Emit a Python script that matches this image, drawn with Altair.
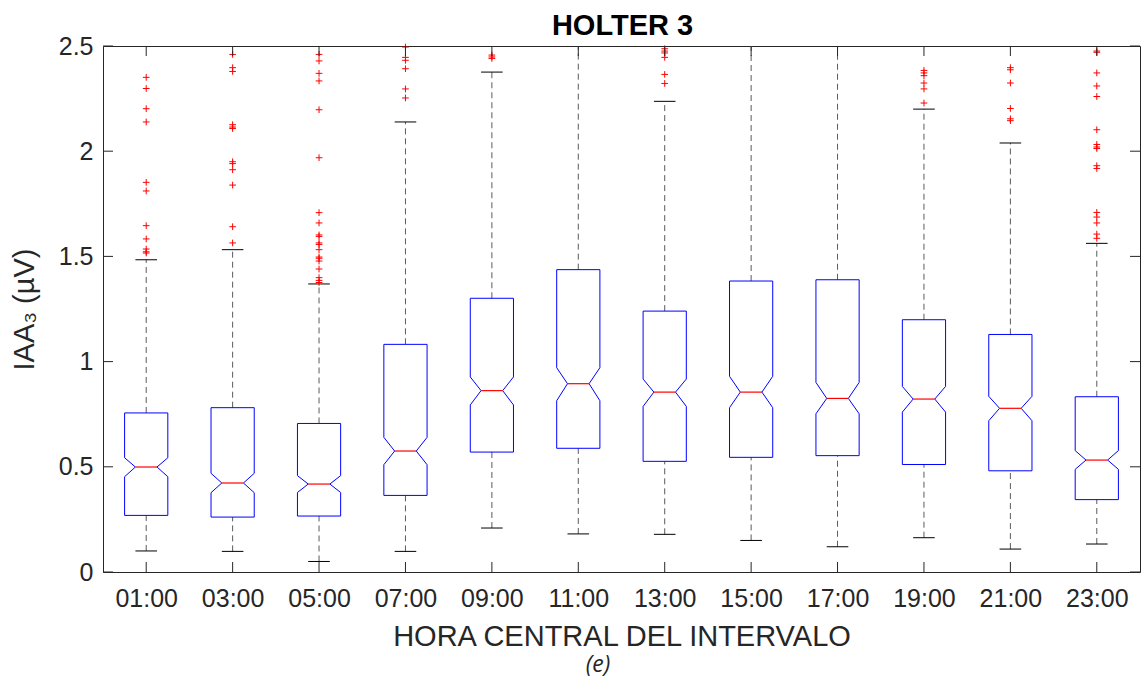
import altair as alt
import pandas as pd

# Hourly intervals (centre hour of each 2-hour window)
hours = ["01:00", "03:00", "05:00", "07:00", "09:00", "11:00",
         "13:00", "15:00", "17:00", "19:00", "21:00", "23:00"]

# Box statistics (µV)
q1 = [0.269, 0.261, 0.266, 0.364, 0.570, 0.588, 0.526, 0.545, 0.553, 0.511, 0.481, 0.344]
q3 = [0.756, 0.781, 0.706, 1.082, 1.301, 1.437, 1.240, 1.383, 1.389, 1.199, 1.129, 0.833]
median = [0.499, 0.423, 0.418, 0.575, 0.862, 0.895, 0.855, 0.855, 0.825, 0.822, 0.778, 0.532]
notch_lo = [0.453, 0.377, 0.378, 0.510, 0.794, 0.814, 0.787, 0.781, 0.752, 0.760, 0.719, 0.488]
notch_hi = [0.543, 0.469, 0.458, 0.640, 0.927, 0.971, 0.917, 0.930, 0.901, 0.882, 0.835, 0.577]
whisker_lo = [0.100, 0.098, 0.050, 0.098, 0.209, 0.181, 0.179, 0.150, 0.120, 0.163, 0.109, 0.133]
whisker_hi = [1.484, 1.532, 1.369, 2.139, 2.376, 2.62, 2.237, 2.58, 2.65, 2.200, 2.039, 1.562]

# Outliers per interval
outliers = [
    [2.351, 2.298, 2.202, 2.139, 1.852, 1.811, 1.646, 1.583, 1.535, 1.522, 1.516],
    [2.460, 2.397, 2.379, 2.126, 2.115, 2.108, 1.950, 1.941, 1.912, 1.839, 1.641, 1.564],
    [2.460, 2.429, 2.370, 2.334, 2.197, 1.969, 1.708, 1.659, 1.602, 1.595, 1.564, 1.557,
     1.532, 1.497, 1.491, 1.478, 1.440, 1.399, 1.386, 1.376],
    [2.495, 2.446, 2.432, 2.392, 2.296, 2.253],
    [2.457, 2.448, 2.441],
    [],
    [2.487, 2.476, 2.467, 2.446, 2.365, 2.322],
    [],
    [],
    [2.384, 2.372, 2.359, 2.324, 2.296, 2.229],
    [2.397, 2.387, 2.324, 2.203, 2.154, 2.145],
    [2.476, 2.470, 2.372, 2.310, 2.260, 2.102, 2.032, 2.020, 2.013, 1.931, 1.918,
     1.709, 1.687, 1.659, 1.606, 1.586],
]

y_ticks = [0, 0.5, 1, 1.5, 2, 2.5]
chart_title = ["HOLTER 3"]
panel_label = ["(e)"]

W, H = 1037, 526
HALF_BOX = 0.25     # box half-width in category units
HALF_NOTCH = 0.125  # notch waist / whisker cap half-width

idx = list(range(1, len(hours) + 1))

stats = pd.DataFrame({
    "i": idx, "hour": hours, "q1": q1, "q3": q3, "med": median,
    "nlo": notch_lo, "nhi": notch_hi, "wlo": whisker_lo, "whi": whisker_hi,
})
stats["xl"] = stats["i"] - HALF_NOTCH
stats["xr"] = stats["i"] + HALF_NOTCH

# Notched box outline, traced as a closed path
outline_rows = []
for _, r in stats.iterrows():
    path = [
        (-HALF_BOX, r.q1), (-HALF_BOX, r.nlo), (-HALF_NOTCH, r.med), (-HALF_BOX, r.nhi),
        (-HALF_BOX, r.q3), (HALF_BOX, r.q3), (HALF_BOX, r.nhi), (HALF_NOTCH, r.med),
        (HALF_BOX, r.nlo), (HALF_BOX, r.q1), (-HALF_BOX, r.q1),
    ]
    for k, (dx, yv) in enumerate(path):
        outline_rows.append({"hour": r.hour, "k": k, "x": r.i + dx, "y": yv})
outline = pd.DataFrame(outline_rows)

out_df = pd.DataFrame(
    [{"i": i, "v": v} for i, vals in zip(idx, outliers) for v in vals]
)

x_scale = alt.Scale(domain=[0.5, 12.5], nice=False, zero=False)
y_scale = alt.Scale(domain=[0, 2.5], nice=False, zero=False)

label_expr = "[" + ",".join(f"'{h}'" for h in hours) + "][datum.value - 1]"

x_axis = alt.Axis(values=idx, labelExpr=label_expr, ticks=False, domain=False, grid=False,
                  labelFontSize=25, labelColor="#262626", labelBaseline="alphabetic",
                  labelPadding=34, title="HORA CENTRAL DEL INTERVALO", titleFontSize=29,
                  titleFontWeight="normal", titleColor="#262626", titleBaseline="alphabetic",
                  titleY=73, labelFlush=False)
y_axis = alt.Axis(values=y_ticks, format="~g", ticks=False, domain=False, grid=False,
                  labelFontSize=25, labelColor="#262626", labelPadding=10,
                  title="IAA₃ (µV)", titleFontSize=29, titleFontWeight="normal",
                  titleColor="#262626", titleBaseline="alphabetic", titleX=-70,
                  titleY=H / 2, titleAlign="center", labelFlush=False)


def X(field):
    return alt.X(field, scale=x_scale, axis=x_axis)


def Y(field):
    return alt.Y(field, scale=y_scale, axis=y_axis)


boxes = alt.Chart(outline).mark_line(color="#0000FF", strokeWidth=1).encode(
    x=X("x:Q"), y=Y("y:Q"), detail="hour:N", order="k:Q",
)

base = alt.Chart(stats)

whisk_up = base.mark_rule(color="#5a5a5a", strokeDash=[6, 4], strokeWidth=1, clip=True).encode(
    x=X("i:Q"), y=Y("q3:Q"), y2="whi:Q",
)
whisk_dn = base.mark_rule(color="#5a5a5a", strokeDash=[6, 4], strokeWidth=1).encode(
    x=X("i:Q"), y=Y("wlo:Q"), y2="q1:Q",
)
cap_up = base.mark_rule(color="black", strokeWidth=1, clip=True).encode(
    x=X("xl:Q"), x2="xr:Q", y=Y("whi:Q"),
)
cap_dn = base.mark_rule(color="black", strokeWidth=1).encode(
    x=X("xl:Q"), x2="xr:Q", y=Y("wlo:Q"),
)
med_line = base.mark_rule(color="#FF0000", strokeWidth=1.2).encode(
    x=X("xl:Q"), x2="xr:Q", y=Y("med:Q"),
)

pts = alt.Chart(out_df).mark_point(
    shape="M-1,0H1M0,-1V1", size=45, color="#FF0000", filled=False, strokeWidth=1, opacity=1
).encode(x=X("i:Q"), y=Y("v:Q"))

# Inward tick marks on all four sides of the frame
yt = alt.Chart(pd.DataFrame({"v": y_ticks}))
xt = alt.Chart(pd.DataFrame({"v": idx}))
tick_style = dict(color="#262626", strokeWidth=1)
left_ticks = yt.mark_rule(**tick_style).encode(
    y=Y("v:Q"), x=alt.value(0), x2=alt.value(10))
right_ticks = yt.mark_rule(**tick_style).encode(
    y=Y("v:Q"), x=alt.value(W - 10), x2=alt.value(W))
bottom_ticks = xt.mark_rule(**tick_style).encode(
    x=X("v:Q"), y=alt.value(H - 10), y2=alt.value(H))
top_ticks = xt.mark_rule(**tick_style).encode(
    x=X("v:Q"), y=alt.value(0), y2=alt.value(10))

title_text = alt.Chart(pd.DataFrame({"t": chart_title})).mark_text(
    font="Liberation Sans", fontWeight="bold", fontSize=29, color="black",
    baseline="alphabetic", align="center"
).encode(text="t:N", x=alt.value(W / 2 + 1), y=alt.value(-11))

panel = alt.Chart(pd.DataFrame({"t": panel_label})).mark_text(
    font="Open Sans", fontStyle="italic", fontSize=23, color="#262626",
    baseline="alphabetic", align="center"
).encode(text="t:N", x=alt.value(495), y=alt.value(626))

chart = alt.layer(
    whisk_up, whisk_dn, cap_up, cap_dn, boxes, med_line, pts,
    left_ticks, right_ticks, bottom_ticks, top_ticks, title_text, panel,
).properties(
    width=W, height=H,
    autosize=alt.AutoSizeParams(type="none"),
    padding={"left": 103, "top": 46, "right": 1, "bottom": 106},
).configure(
    font="Liberation Sans",
).configure_view(
    stroke="#262626", strokeWidth=1,
)

chart.save("out.html", embed_options={"renderer": "svg", "actions": False})
